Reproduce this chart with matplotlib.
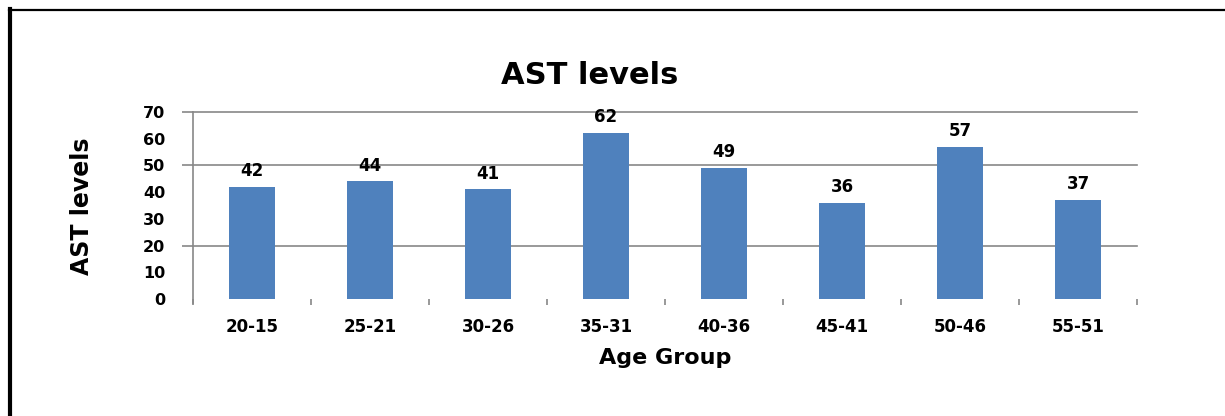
import matplotlib
matplotlib.use("Agg")
import matplotlib.pyplot as plt
from matplotlib.lines import Line2D

categories = ["20-15", "25-21", "30-26", "35-31", "40-36", "45-41", "50-46", "55-51"]
values = [42, 44, 41, 62, 49, 36, 57, 37]
y_ticks = [0, 10, 20, 30, 40, 50, 60, 70]
grid_levels = [20, 50, 70]
title = "AST levels"
x_label = "Age Group"
y_label = "AST levels"

plt.rcParams['font.family'] = ['DejaVu Sans']
plt.rcParams['font.weight'] = 'bold'

W, H = 1225, 416
fig = plt.figure(figsize=(W / 100, H / 100), dpi=100)
fig.patch.set_facecolor('white')

ax = fig.add_axes([193 / W, 1 - 299 / H, (1137 - 193) / W, (299 - 112) / H])
ax.set_axisbelow(True)
x = list(range(len(categories)))
bars = ax.bar(x, values, width=0.39, color='#4F81BD', zorder=3)

ax.set_xlim(-0.5, len(categories) - 0.5)
ax.set_ylim(0, 70)

ax.yaxis.remove_overlapping_locs = False
ax.set_yticks(y_ticks)
ax.set_yticklabels([str(v) for v in y_ticks], fontsize=11.5, fontweight='bold')
ax.tick_params(axis='y', which='major', length=0, pad=20)
ax.set_yticks(grid_levels, minor=True)
ax.tick_params(axis='y', which='minor', length=8, color='#888888', width=1.2)
ax.grid(True, which='minor', axis='y', color='#888888', linewidth=1.2)
ax.grid(False, which='major')
for t in ax.yaxis.get_minor_ticks():
    t.gridline.set_clip_on(False)

ax.set_xticks(x)
ax.set_xticklabels(categories, fontsize=12, fontweight='bold')
ax.tick_params(axis='x', which='major', length=0, pad=14)
ax.set_xticks([i - 0.5 for i in range(len(categories) + 1)], minor=True)
ax.tick_params(axis='x', which='minor', length=4, color='#888888', width=1.2)

for s in ['top', 'right', 'bottom']:
    ax.spines[s].set_visible(False)
ax.spines['left'].set_color('#888888')
ax.spines['left'].set_linewidth(1.2)
ax.spines['left'].set_bounds(-1.5, 70)

for xi, v in zip(x, values):
    ax.annotate(str(v), (xi, v), xytext=(0, 5), textcoords='offset points',
                ha='center', va='bottom', fontsize=12, fontweight='bold')

fig.text(590 / W, 1 - 76 / H, title, ha='center', va='center', fontsize=22, fontweight='bold')
fig.text(665 / W, 1 - 358 / H, x_label, ha='center', va='center', fontsize=16, fontweight='bold')
fig.text(82 / W, 1 - 206 / H, y_label, ha='center', va='center', rotation=90, fontsize=17, fontweight='bold')

# outer frame (partially visible)
fig.add_artist(Line2D([10 / W, 10 / W], [0, 1 - 9 / H], color='black', linewidth=3, transform=fig.transFigure))
fig.add_artist(Line2D([8.5 / W, 1], [1 - 10 / H, 1 - 10 / H], color='black', linewidth=1.6, transform=fig.transFigure))

fig.savefig('out.png', dpi=100, facecolor='white')
